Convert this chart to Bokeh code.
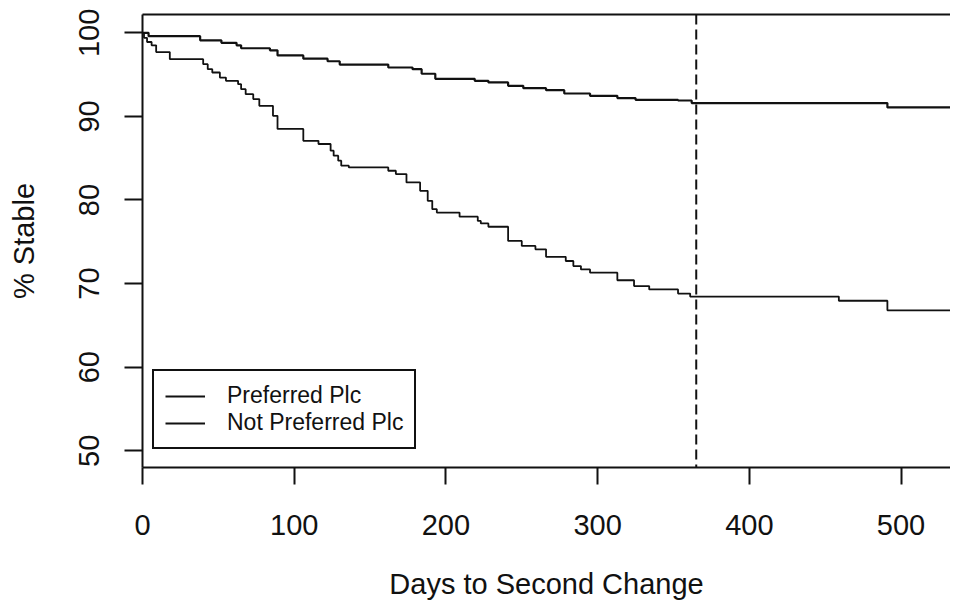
from bokeh.plotting import figure
from bokeh.models import Range1d, Span, LinearAxis, FixedTicker, Legend, LegendItem
from bokeh.embed import file_html
from bokeh.resources import INLINE

# step curves: day of each drop, % stable after it
pref_days = [0, 4, 38, 52, 62, 65, 84, 89, 106, 122, 130, 162, 178, 184, 193,
             219, 228, 241, 251, 266, 278, 295, 313, 325, 353, 362, 491, 537]
pref_stable = [100, 99.6, 99.1, 98.8, 98.5, 98.15, 97.9, 97.3, 96.9, 96.6, 96.2,
               95.85, 95.65, 95.1, 94.5, 94.26, 94.06, 93.66, 93.38, 93.14, 92.74,
               92.46, 92.19, 91.98, 91.9, 91.6, 91.07, 91.07]

notpref_days = [0, 1, 3, 6, 9, 18, 40, 43, 46, 51, 55, 63, 65, 68, 73, 77, 86, 89,
                106, 116, 124, 126, 129, 131, 136, 162, 167, 174, 183, 188, 191, 194,
                209, 221, 223, 228, 241, 250, 259, 266, 279, 284, 289, 295, 313, 324,
                334, 353, 361, 459, 491, 537]
notpref_stable = [100, 99.4, 98.9, 98.5, 97.7, 96.85, 96.25, 95.65, 95.25, 94.65,
                  94.26, 93.86, 93.26, 92.66, 92.07, 91.27, 90.07, 88.5, 87.08, 86.7,
                  85.9, 85.3, 84.7, 84.1, 83.9, 83.5, 83.1, 82.1, 81.1, 79.9, 78.9,
                  78.5, 78.0, 77.5, 77.2, 76.8, 75.1, 74.5, 74.1, 73.2, 72.7, 72.1,
                  71.7, 71.3, 70.4, 69.7, 69.3, 68.8, 68.45, 67.95, 66.8, 66.8]

cutoff_day = 365
x_ticks = [0, 100, 200, 300, 400, 500]
y_ticks = [50, 60, 70, 80, 90, 100]

FONT = "Liberation Sans"
INK = "#111111"

p = figure(width=950, height=602, output_backend="svg", toolbar_location=None,
           x_range=Range1d(0, 532.6), y_range=Range1d(48.0, 102.19),
           min_border_left=142, min_border_top=14, min_border_bottom=135,
           min_border_right=0)
p.xgrid.visible = False
p.ygrid.visible = False
p.outline_line_color = None
p.background_fill_color = "white"
p.border_fill_color = "white"

pref = p.step(pref_days, pref_stable, mode="after", line_color=INK, line_width=2.2)
notpref = p.step(notpref_days, notpref_stable, mode="after", line_color=INK, line_width=1.8)

p.add_layout(Span(location=cutoff_day, dimension="height", line_color=INK,
                  line_width=2, line_dash="10 5"))

for ax in (p.xaxis[0], p.yaxis[0]):
    ax.axis_line_width = 2
    ax.axis_line_color = INK
    ax.major_tick_line_width = 2
    ax.major_tick_line_color = INK
    ax.major_tick_in = 0
    ax.minor_tick_line_color = None
    ax.major_label_text_font = FONT
    ax.major_label_text_font_size = "29px"
    ax.major_label_text_color = INK
    ax.axis_label_text_font = FONT
    ax.axis_label_text_font_size = "29px"
    ax.axis_label_text_font_style = "normal"
    ax.axis_label_text_color = INK

p.xaxis.ticker = FixedTicker(ticks=x_ticks)
p.xaxis.major_tick_out = 17
p.xaxis.major_label_standoff = 30
p.xaxis.axis_label = "Days to Second Change"
p.xaxis.axis_label_standoff = 30

p.yaxis.ticker = FixedTicker(ticks=y_ticks)
p.yaxis.major_tick_out = 18
p.yaxis.major_label_orientation = "vertical"
p.yaxis.major_label_standoff = 25
p.yaxis.axis_label = "% Stable"
p.yaxis.axis_label_standoff = 37

# top edge of the box
top = LinearAxis(ticker=FixedTicker(ticks=[]), major_tick_out=0, major_tick_in=0,
                 major_label_standoff=0, major_label_text_font_size="0px",
                 axis_line_width=2, axis_line_color=INK)
p.add_layout(top, "above")

legend = Legend(items=[LegendItem(label="Preferred Plc", renderers=[pref]),
                       LegendItem(label="Not Preferred Plc", renderers=[notpref])],
                location=(10, 18), padding=11, spacing=0, margin=0,
                glyph_width=40, glyph_height=24, label_height=24, label_standoff=22,
                label_text_font=FONT, label_text_font_size="23px", label_text_color=INK,
                border_line_color=INK, border_line_width=2, border_line_alpha=1,
                background_fill_color="white", background_fill_alpha=1)
p.add_layout(legend)

open("out.html", "w").write(file_html(p, INLINE))
